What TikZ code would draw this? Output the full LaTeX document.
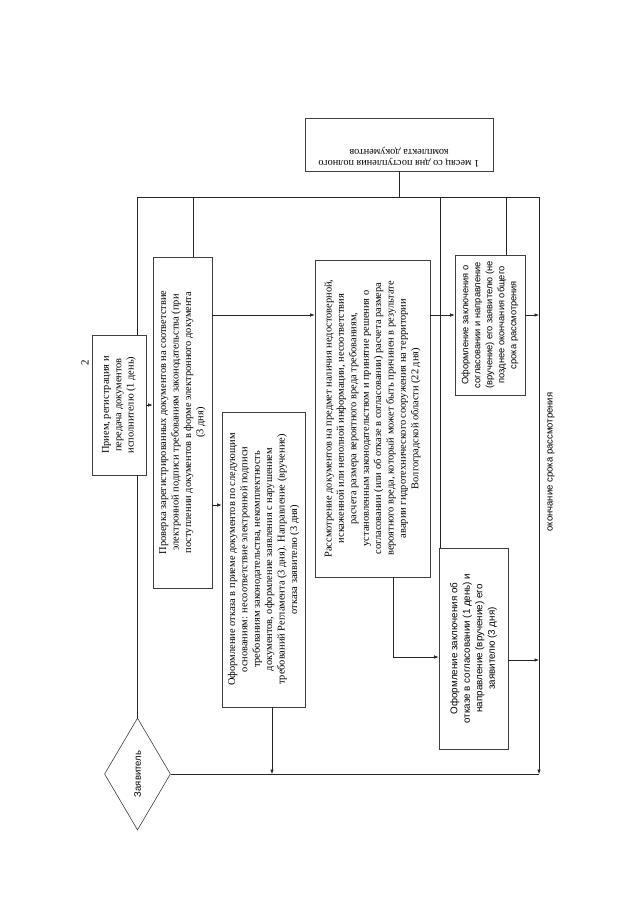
\documentclass[tikz,border=0pt]{standalone}
\usepackage{fontspec}
\setmainfont{Liberation Serif}
\newfontfamily\sansf{Liberation Sans}
\usetikzlibrary{arrows.meta,shapes.geometric}
\begin{document}
\begin{tikzpicture}[x=1pt,y=-1pt,
  box/.style={draw=black!75, line width=0.6pt, inner sep=0pt},
  txt/.style={rotate=90, align=center, font=\fontsize{10.4}{12.4}\selectfont, inner sep=0pt},
  stxt/.style={rotate=90, align=center, font=\sansf\fontsize{9.3}{12}\selectfont, inner sep=0pt},
  ln/.style={draw=black!85, line width=0.6pt},
  arr/.style={ln, -{Latex[length=4.5pt,width=3.5pt]}}]
\useasboundingbox (0,0) rectangle (640,905);
\fill[white] (0,0) rectangle (640,905);

% page number
\node[rotate=90, font=\fontsize{11}{12}\selectfont] (pg) at (85,363) {2};

% boxes
\node[box, minimum width=188, minimum height=53] (G) at (399,144.5) {};
\node[rotate=180, align=center, font=\fontsize{10.3}{11}\selectfont, inner sep=0pt] (Gt) at (399,157) {1 месяц со дня поступления полного\\комплекта документов};

\node[box, minimum width=54, minimum height=140] (A) at (119,405) {};
\node[txt] (At) at (A) {Прием, регистрация и\\передача документов\\исполнителю (1 день)};

\node[box, minimum width=59, minimum height=331] (B) at (182.5,422.5) {};
\node[txt] (Bt) at (B) {Проверка зарегистрированных документов на соответствие\\электронной подписи требованиям законодательства (при\\поступлении документов в форме электронного документа\\(3 дня)};

\node[box, minimum width=83, minimum height=295] (C) at (263.5,559.5) {};
\node[txt] (Ct) at (C) {Оформление отказа в приеме документов по следующим\\основаниям: несоответствие электронной подписи\\требованиям законодательства, некомплектность\\документов, оформление заявления с нарушением\\требований Регламента (3 дня). Направление (вручение)\\отказа заявителю (3 дня)};

\node[box, minimum width=115, minimum height=317] (D) at (372.5,418.5) {};
\node[txt] (Dt) at (D) {Рассмотрение документов на предмет наличия недостоверной,\\искаженной или неполной информации, несоответствия\\расчета размера вероятного вреда требованиям,\\установленным законодательством и принятие решения о\\согласовании (или об отказе в согласовании) расчета размера\\вероятного вреда, который может быть причинен в результате\\аварии гидротехнического сооружения на территории\\Волгоградской области (22 дня)};

\node[box, minimum width=69, minimum height=201] (E) at (473.5,648.5) {};
\node[stxt, font=\sansf\fontsize{9.8}{12.5}\selectfont] (Et) at (E) {Оформление заключения об\\отказе в согласовании (1 день) и\\направление (вручение) его\\заявителю (3 дня)};

\node[box, minimum width=70, minimum height=140] (F) at (490,325) {};
\node[stxt] (Ft) at (F) {Оформление заключения о\\согласовании и направление\\(вручение) его заявителю (не\\позднее окончания общего\\срока рассмотрения};

\node[diamond, draw=black!75, line width=0.6pt, minimum width=66, minimum height=112, inner sep=0pt] (Z) at (137.5,774) {};
\node[stxt, font=\sansf\fontsize{9.5}{11}\selectfont] (Zt) at (Z) {Заявитель};

\node[stxt, font=\sansf\fontsize{9.5}{11}\selectfont] (endl) at (551,462) {окончание срока рассмотрения};

% helper coordinates
\coordinate (TL) at (137,197);
\coordinate (TR) at (539,197);
\coordinate (BR) at (539,774);
\coordinate (xA) at (137,0);
\coordinate (xB) at (193,0);
\coordinate (xM) at (440,0);
\coordinate (xF) at (506,0);
\coordinate (xC) at (272,0);
\coordinate (xD) at (393,0);
\coordinate (y315) at (0,315);
\coordinate (y505) at (0,505);
\coordinate (y657) at (0,657);
\coordinate (y660) at (0,660);

% top line and drops
\draw[ln] (TL) -- (TR);
\draw[ln] (G.south) -- (G.south |- TL);
\draw[ln] (xA |- TL) -- (xA |- A.north);
\draw[ln] (xA |- A.south) -- (xA |- Z.north);
\draw[ln] (xB |- TL) -- (xB |- B.north);
\draw[ln] (xM |- TL) -- (xM |- E.north);
\draw[ln] (xF |- TL) -- (xF |- F.north);

% flow arrows
\draw[arr] (A.east) -- (A.east -| B.west);
\draw[arr] (B.east |- y315) -- (D.west |- y315);
\draw[arr] (B.east |- y505) -- (C.west |- y505);
\draw[arr] (D.east |- y315) -- (F.west |- y315);
\draw[arr] (F.east |- y315) -- (TR |- y315);
\draw[arr] (xD |- D.south) -- (xD |- y657) -- (E.west |- y657);
\draw[arr] (E.east |- y660) -- (TR |- y660);
\draw[arr] (xC |- C.south) -- (xC |- BR);
\draw[arr] (TR) -- (BR);
\draw[ln] (Z.east) -- (BR);
\end{tikzpicture}
\end{document}
